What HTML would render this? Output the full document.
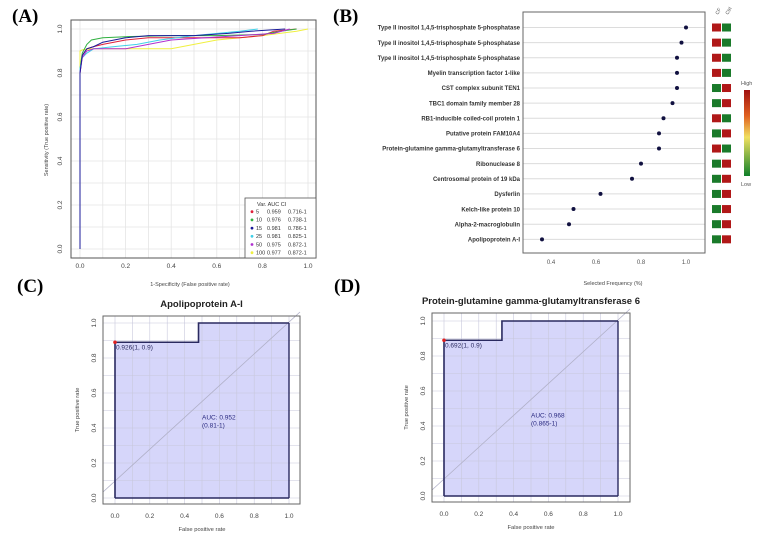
<!DOCTYPE html>
<html><head><meta charset="utf-8">
<style>
html,body{margin:0;padding:0;background:#fff;}
svg{display:block;font-family:"Liberation Sans",sans-serif;}
.pl{font-family:"Liberation Serif",serif;font-weight:bold;font-size:19px;}
</style></head>
<body>
<svg id="fig" width="762" height="541" viewBox="0 0 762 541" xmlns="http://www.w3.org/2000/svg">
<text class="pl" x="12" y="22">(A)</text>
<text class="pl" x="333" y="22">(B)</text>
<text class="pl" x="17" y="292">(C)</text>
<text class="pl" x="334" y="292">(D)</text>
<g id="pa"></g>
<g id="pb"></g>
<g id="pc"></g>
<g id="pd"></g>
</svg>
<script>
const NS="http://www.w3.org/2000/svg";
function mk(p,t,a,txt){const e=document.createElementNS(NS,t);for(const k in a)e.setAttribute(k,a[k]);if(txt!==undefined)e.textContent=txt;p.appendChild(e);return e;}

// ---- Panel A data
const aTicks=[0,0.2,0.4,0.6,0.8,1.0];
const aSeriesNames=["5","10","15","25","50","100"];
const aColors=["#e0203a","#30b040","#1a1a9a","#40d0e8","#b030d0","#f0f040"];
const aAUC=["0.959","0.976","0.981","0.981","0.975","0.977"];
const aCI=["0.716-1","0.738-1","0.786-1","0.825-1","0.872-1","0.872-1"];
const aFpr5=[0,0,0.01,0.03,0.06,0.1,0.2,0.3,0.5,0.7,0.8,0.85,0.95];
const aTpr5=[0,0.8,0.88,0.91,0.92,0.93,0.95,0.96,0.96,0.96,0.97,0.99,1.0];
const aFpr10=[0,0,0.01,0.03,0.05,0.1,0.2,0.4,0.6,0.8,0.88,0.95];
const aTpr10=[0,0.82,0.89,0.93,0.95,0.96,0.965,0.97,0.97,0.975,0.99,1.0];
const aFpr15=[0,0,0.01,0.03,0.06,0.1,0.2,0.3,0.5,0.65,0.75,0.9];
const aTpr15=[0,0.8,0.88,0.91,0.92,0.94,0.96,0.97,0.97,0.98,0.99,1.0];
const aFpr25=[0,0,0.01,0.03,0.06,0.15,0.25,0.35,0.5,0.7,0.78];
const aTpr25=[0,0.82,0.87,0.89,0.91,0.92,0.93,0.95,0.97,0.99,1.0];
const aFpr50=[0,0,0.01,0.03,0.06,0.2,0.3,0.4,0.55,0.7,0.85,0.92];
const aTpr50=[0,0.8,0.87,0.9,0.91,0.91,0.93,0.95,0.96,0.97,0.98,1.0];
const aFpr100=[0,0,0.01,0.05,0.2,0.4,0.5,0.6,0.8,0.95,1.0];
const aTpr100=[0,0.9,0.905,0.91,0.91,0.91,0.93,0.95,0.97,0.99,1.0];
const aFprs=[aFpr5,aFpr10,aFpr15,aFpr25,aFpr50,aFpr100];
const aTprs=[aTpr5,aTpr10,aTpr15,aTpr25,aTpr50,aTpr100];

(function(){
 const g=document.getElementById('pa');
 const X=v=>80+v*228, Y=v=>249-v*220;
 for(let i=0;i<=10;i++){const v=i/10;
  mk(g,'line',{x1:X(v),x2:X(v),y1:20,y2:258,stroke:'#e4e4e4','stroke-width':0.8});
  mk(g,'line',{x1:71,x2:316,y1:Y(v),y2:Y(v),stroke:'#e4e4e4','stroke-width':0.8});}
 mk(g,'rect',{x:71,y:20,width:245,height:238,fill:'none',stroke:'#555','stroke-width':1});
 aTicks.forEach(v=>{
  const t=mk(g,'text',{x:X(v),y:268,'font-size':6.5,fill:'#444','text-anchor':'middle'},v.toFixed(1));
  
  const u=mk(g,'text',{transform:`translate(62,${Y(v)}) rotate(-90)`,'font-size':6.5,fill:'#444','text-anchor':'middle'},v.toFixed(1));
  
 });
 let t=mk(g,'text',{x:190,y:286,'font-size':5.5,fill:'#444','text-anchor':'middle'},'1-Specificity (False positive rate)');
 
 t=mk(g,'text',{transform:'translate(48,140) rotate(-90)','font-size':5.5,fill:'#444','text-anchor':'middle'},'Sensitivity (True positive rate)');
 
 [5,0,1,3,4,2].forEach(i=>{
  const pts=aFprs[i].map((f,j)=>X(f)+','+Y(aTprs[i][j])).join(' ');
  const l=mk(g,'polyline',{points:pts,fill:'none',stroke:aColors[i],'stroke-width':1});
  
 });
 const lg=mk(g,'g',{});
 
 mk(lg,'rect',{x:245,y:198,width:71,height:60,fill:'#fff',stroke:'#555','stroke-width':0.8});
 mk(lg,'text',{x:257,y:206,'font-size':5.5,fill:'#333'},'Var.  AUC      CI');
 aSeriesNames.forEach((n,i)=>{const y=213.5+i*8.2;
  const e=mk(lg,'g',{});
  mk(e,'circle',{cx:252,cy:y-1.8,r:1.4,fill:aColors[i]});
  mk(e,'text',{x:256,y:y,'font-size':5.5,fill:'#333'},n);
  mk(e,'text',{x:267,y:y,'font-size':5.5,fill:'#333'},aAUC[i]);
  mk(e,'text',{x:288,y:y,'font-size':5.5,fill:'#333'},aCI[i]);
 });
})();

// ---- Panel B data
const bProteins=["Type II inositol 1,4,5-trisphosphate 5-phosphatase","Type II inositol 1,4,5-trisphosphate 5-phosphatase","Type II inositol 1,4,5-trisphosphate 5-phosphatase","Myelin transcription factor 1-like","CST complex subunit TEN1","TBC1 domain family member 28","RB1-inducible coiled-coil protein 1","Putative protein FAM10A4","Protein-glutamine gamma-glutamyltransferase 6","Ribonuclease 8","Centrosomal protein of 19 kDa","Dysferlin","Kelch-like protein 10","Alpha-2-macroglobulin","Apolipoprotein A-I"];
const bFreq=[1.0,0.98,0.96,0.96,0.96,0.94,0.90,0.88,0.88,0.80,0.76,0.62,0.50,0.48,0.36];
const bCF=["H","H","H","H","L","L","H","L","H","L","L","L","L","L","L"];
const bTicks=[0.4,0.6,0.8,1.0];

(function(){
 const g=document.getElementById('pb');
 const X=v=>551+(v-0.4)*225, Y=i=>27.5+i*15.13;
 bProteins.forEach((p,i)=>{mk(g,'line',{x1:523,x2:705,y1:Y(i),y2:Y(i),stroke:'#dcdcdc','stroke-width':1});});
 mk(g,'rect',{x:523,y:12,width:182,height:241,fill:'none',stroke:'#666','stroke-width':1});
 bProteins.forEach((p,i)=>{
  const t=mk(g,'text',{x:520,y:Y(i)+2.2,'font-size':6,'font-weight':'bold',fill:'#333','text-anchor':'end'},p);
  
  const c=mk(g,'circle',{cx:X(bFreq[i]),cy:Y(i),r:2,fill:'#111140'});
  
  const hi='#b01818',lo='#1a7a2a';
  const a=bCF[i]==='H';
  const r1=mk(g,'rect',{x:712,y:Y(i)-4,width:9,height:8,fill:a?hi:lo});
  
  const r2=mk(g,'rect',{x:722,y:Y(i)-4,width:9,height:8,fill:a?lo:hi});
  
 });
 bTicks.forEach(v=>{const t=mk(g,'text',{x:X(v),y:264,'font-size':6,fill:'#555','text-anchor':'middle'},v.toFixed(1));
  });
 let t=mk(g,'text',{x:613,y:285,'font-size':5.5,fill:'#444','text-anchor':'middle'},'Selected Frequency (%)');
 
 mk(g,'text',{transform:'translate(718,15) rotate(-60)','font-size':5,fill:'#555'},'CF');
 mk(g,'text',{transform:'translate(728,15) rotate(-60)','font-size':5,fill:'#555'},'Ctrl');
 const d=mk(g,'defs',{});const lgr=mk(d,'linearGradient',{id:'hg',x1:0,y1:0,x2:0,y2:1});
 mk(lgr,'stop',{offset:'0','stop-color':'#a01010'});mk(lgr,'stop',{offset:'0.3','stop-color':'#e06020'});mk(lgr,'stop',{offset:'0.55','stop-color':'#f0e060'});mk(lgr,'stop',{offset:'1','stop-color':'#10802a'});
 const cb=mk(g,'rect',{x:744,y:90,width:6,height:86,fill:'url(#hg)'});
 
 mk(g,'text',{x:741,y:85,'font-size':5.5,fill:'#555'},'High');
 mk(g,'text',{x:741,y:186,'font-size':5.5,fill:'#555'},'Low');
})();

// ---- Panels C & D data
const cFpr=[0,0,0.48,0.48,1,1];
const cTpr=[0,0.89,0.89,1,1,0];
const dFpr=[0,0,0.333,0.333,1,1];
const dTpr=[0,0.89,0.89,1,1,0];
const rocTicks=[0,0.2,0.4,0.6,0.8,1.0];

function rocPanel(id,box,x0,x1,y0,y1,title,fpr,tpr,lab,auc,ci){
 const g=document.getElementById(id);
 const X=v=>x0+v*(x1-x0), Y=v=>y0-v*(y0-y1);
 const tt=mk(g,'text',{x:(box[0]+box[2])/2,y:box[1]-9,'font-size':9.5,'font-weight':'bold',fill:'#222','text-anchor':'middle'},title);
 
 const poly=fpr.map((f,i)=>X(f)+','+Y(tpr[i])).join(' ');
 const ar=mk(g,'polygon',{points:poly,fill:'#d6d6fa',stroke:'none'});
 
 for(let i=0;i<=10;i++){const v=i/10;
  mk(g,'line',{x1:X(v),x2:X(v),y1:box[1],y2:box[3],stroke:'#c8c8dc','stroke-width':0.6});
  mk(g,'line',{x1:box[0],x2:box[2],y1:Y(v),y2:Y(v),stroke:'#c8c8dc','stroke-width':0.6});}
 mk(g,'line',{x1:box[0],y1:box[3]+(box[0]-X(0)),x2:box[2],y2:Y(1)-(box[2]-X(1)),stroke:'#b0b0c8','stroke-width':0.8});
 mk(g,'rect',{x:box[0],y:box[1],width:box[2]-box[0],height:box[3]-box[1],fill:'none',stroke:'#666','stroke-width':1});
 const ln=mk(g,'polyline',{points:fpr.slice(0,5).map((f,i)=>X(f)+','+Y(tpr[i])).join(' '),fill:'none',stroke:'#2a2a60','stroke-width':1.6});
 
 mk(g,'line',{x1:X(0),x2:X(1),y1:Y(0),y2:Y(0),stroke:'#2a2a60','stroke-width':1.4});
 mk(g,'line',{x1:X(1),x2:X(1),y1:Y(0),y2:Y(1),stroke:'#2a2a60','stroke-width':1.4});
 const pt=mk(g,'circle',{cx:X(0),cy:Y(tpr[1]),r:1.8,fill:'#e02020'});
 
 mk(g,'text',{x:X(0)+1,y:Y(tpr[1])+7,'font-size':6.5,fill:'#2a2a60'},lab);
 mk(g,'text',{x:X(0.5),y:Y(0.45),'font-size':6.5,fill:'#2a2a80'},'AUC: '+auc);
 mk(g,'text',{x:X(0.5),y:Y(0.45)+8,'font-size':6.5,fill:'#2a2a80'},ci);
 rocTicks.forEach(v=>{
  const a=mk(g,'text',{x:X(v),y:box[3]+14,'font-size':6.5,fill:'#444','text-anchor':'middle'},v.toFixed(1));
  
  const b=mk(g,'text',{transform:`translate(${box[0]-7},${Y(v)}) rotate(-90)`,'font-size':6.5,fill:'#444','text-anchor':'middle'},v.toFixed(1));
  
 });
 let t=mk(g,'text',{x:(X(0)+X(1))/2,y:box[3]+27,'font-size':5.8,fill:'#444','text-anchor':'middle'},'False positive rate');
 
 t=mk(g,'text',{transform:`translate(${box[0]-24},${(box[1]+box[3])/2}) rotate(-90)`,'font-size':5.8,fill:'#444','text-anchor':'middle'},'True positive rate');
 
}
rocPanel('pc',[103,316,300,504],115,289,498,323,'Apolipoprotein A-I',cFpr,cTpr,'0.926(1, 0.9)','0.952','(0.81-1)');
rocPanel('pd',[432,313,630,502],444,618,496,321,'Protein-glutamine gamma-glutamyltransferase 6',dFpr,dTpr,'0.692(1, 0.9)','0.968','(0.865-1)');
</script>
</body></html>
